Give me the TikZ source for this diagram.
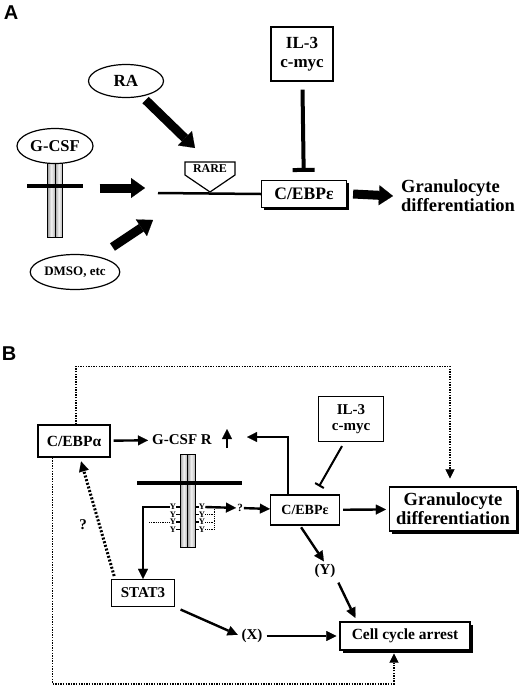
\documentclass[tikz,border=0pt]{standalone}
\usepackage{fontspec}
\setmainfont{Liberation Serif}
\newfontfamily\panelfont{Liberation Sans}
\usetikzlibrary{positioning,arrows.meta,calc,shapes.geometric,shadows}

\begin{document}
\begin{tikzpicture}[x=1pt, y=-1pt, font=\bfseries, line cap=butt]
\tikzset{box/.style={draw, line width=1.2pt, fill=white, align=center, inner sep=2pt},sbox/.style={box, drop shadow={shadow xshift=2.5pt, shadow yshift=-2.5pt, fill=black, opacity=1}},oval/.style={draw, ellipse, line width=1.2pt, fill=white, inner sep=1pt},arrow/.style={-{Triangle[length=10pt,width=10pt,line width=0.1pt]}, line width=2.4pt},fat/.style={-{Triangle[length=14pt,width=20pt,line width=0.1pt]}, line width=9pt},dots/.style={line width=1.8pt, dash pattern=on 1.4pt off 1.2pt},tdots/.style={line width=0.9pt, dash pattern=on 0.9pt off 0.9pt},bar/.style={draw, line width=0.7pt, left color=gray!75, right color=gray!60, middle color=gray!10},ytag/.style={font=\fontsize{8.5}{8.5}\selectfont\bfseries, inner sep=0pt},panel/.style={font=\fontsize{20}{20}\selectfont\panelfont\bfseries},fs/.style={font=\fontsize{#1}{#1}\selectfont\bfseries}}
\useasboundingbox (0,0) rectangle (520,686);
% panel A
\node[panel] (labA) at (11,13) {A};
\node[oval, minimum width=75pt, minimum height=33pt, fs=17] (ra) at (126,81) {RA};
\node[minimum width=15pt, minimum height=78pt, inner sep=0pt] (recA) at (55,199) {};
\foreach \dx in {-7.5,0} \draw[bar] ([xshift=\dx pt]recA.north) rectangle ++(7.5,78);
\draw[line width=4pt] ([xshift=-20pt,yshift=13pt]recA.west) -- ([xshift=20pt,yshift=13pt]recA.east);
\node[oval, minimum width=76pt, minimum height=35pt, fs=16.5] (gcsf) at (55,146) {G-CSF};
\node[oval, minimum width=77pt, minimum height=35pt, fs=13] (dmso) at (75,272) {DMSO, etc};
\node[box, minimum width=62pt, minimum height=54pt, font=\fontsize{17}{19}\selectfont\bfseries] (ilA) at (302,54) {IL-3\\c-myc};
\node[sbox, minimum width=85pt, minimum height=27pt, fs=17.5] (cebpeA) at (304,194) {C/EBPε};
\node[align=left, anchor=west, inner sep=0pt, font=\fontsize{18.5}{19}\selectfont\bfseries] (granA) at (401,196) {Granulocyte\\differentiation};
\coordinate (dnaA) at (158,193);
\coordinate (raEnd) at (195,148);
\coordinate (gEnd) at (145,188);
\coordinate (dEnd) at (153,220);
\draw[line width=2.5pt] (dnaA) -- (cebpeA.west);
\draw[line width=1.2pt, fill=white] (185,162) -- (235,162) -- (235,175) -- (210,192) -- (185,175) -- cycle;
\node[fs=12] (rare) at (210,169) {RARE};
\draw[fat, shorten <=5pt] (ra) -- (raEnd);
\draw[fat, shorten <=37pt] (recA.east |- gEnd) -- (gEnd);
\draw[fat, shorten <=17pt] (dmso) -- (dEnd);
\draw[line width=4pt, -{Bar[width=22pt,line width=4pt]}, shorten <=8pt, shorten >=8pt] (ilA) -- (cebpeA);
\draw[fat] (cebpeA.east) ++(6pt,0) coordinate (eA) (eA) -- (granA.west -| 393,0) ;
% panel B
\node[panel] (labB) at (9,354) {B};
\node[box, minimum width=72pt, minimum height=32pt, fs=15.5] (cebpaB) at (74,441) {C/EBPα};
\node[inner sep=0pt, fs=15] (gcsfr) at (182,440) {G-CSF R};
\node[box, minimum width=65pt, minimum height=45pt, font=\fontsize{15}{16}\selectfont\bfseries] (ilB) at (351,419) {IL-3\\c-myc};
\node[box, minimum width=69pt, minimum height=30pt, fs=14] (cebpeB) at (305,510) {C/EBPε};
\node[sbox, minimum width=127pt, minimum height=44pt, inner sep=3pt, font=\fontsize{18.5}{19}\selectfont\bfseries] (granB) at (453,509) {Granulocyte\\differentiation};
\node[sbox, minimum width=130pt, minimum height=28pt, fs=15.5] (cellB) at (405,636) {Cell cycle arrest};
\node[box, minimum width=63pt, minimum height=27pt, fs=15] (stat3) at (143,593) {STAT3};
\node[inner sep=1pt, fs=15] (xB) at (252,636) {(X)};
\node[inner sep=1pt, fs=15] (yB) at (325,571) {(Y)};
\node[fs=15] (q1) at (83,525) {?};
\node[inner sep=1pt, fs=11] (q2) at (240,508) {?};
\node[minimum width=15pt, minimum height=93pt, inner sep=0pt] (recB) at (187.5,501.5) {};
\foreach \dx in {-7.5,0} \draw[bar] ([xshift=\dx pt]recB.north) rectangle ++(7.5,93);
\draw[line width=3.5pt] (137,483) -- (242,483);
\foreach \y [count=\i] in {507,514.5,522,529.5} {
  \node[ytag] (yl\i) at (173,\y) {Y};
  \node[ytag] (yr\i) at (202,\y) {Y};
  \draw[line width=1.2pt] (yl\i.east) -- (yl\i.east -| recB.west);
  \draw[line width=1.2pt] (yr\i.west) -- (yr\i.west -| recB.east);
}
\coordinate (brk) at (214,507);
\coordinate (rEnd) at (247,437);
\foreach \i in {2,3,4} \draw[tdots] (yr\i.east) -- (yr\i.east -| brk);
\draw[tdots] (brk) -- (brk |- yr4.east);
\draw[tdots] (yl3.west) -- ++(-21,0);
\draw[arrow] (yl1.west) -| (stat3.north);
\draw[arrow] (yr1.east) -- (q2);
\draw[arrow] (q2) -- (cebpeB);
\draw[arrow, shorten <=3pt, shorten >=4pt] (cebpaB) -- (gcsfr);
\draw[arrow] (227,448) -- (227,429);
\draw[arrow] ([xshift=-17pt]cebpeB.north) |- (rEnd);
\draw[line width=2pt, -{Bar[width=10pt,line width=2pt]}] ([xshift=-9pt,yshift=-4pt]ilB.south) -- ([xshift=14pt,yshift=8pt]cebpeB.north);
\draw[arrow, shorten <=3pt, shorten >=3pt] (cebpeB) -- (granB);
\draw[arrow, shorten <=2pt, shorten >=2pt] ([xshift=-5pt]cebpeB.south) -- (yB.north);
\draw[arrow, shorten <=4pt, shorten >=4pt] (yB.south east) -- ([xshift=-48pt]cellB.north);
\draw[arrow, shorten <=3pt, shorten >=3pt] (xB) -- (cellB);
\draw[arrow, shorten <=6pt, shorten >=3pt] (stat3.south east) -- (xB.west);
\draw[line width=3pt, dash pattern=on 2pt off 1.8pt, -{Triangle[length=10pt,width=10pt,line width=0.1pt]}, shorten <=3pt, shorten >=4pt] ([xshift=-28pt]stat3.north) -- ([xshift=6pt]cebpaB.south);
\draw[dots, -{Triangle[length=9pt,width=9pt,line width=0.1pt]}, shorten >=8pt] ([xshift=2pt]cebpaB.north) -- ++(0,-58) -| ([xshift=-3pt]granB.north);
\draw[dots, -{Triangle[length=9pt,width=9pt,line width=0.1pt]}, shorten >=3pt] ([xshift=15pt]cebpaB.south west) -- ++(0,226) -| ([xshift=-11pt]cellB.south);
\end{tikzpicture}
\end{document}
